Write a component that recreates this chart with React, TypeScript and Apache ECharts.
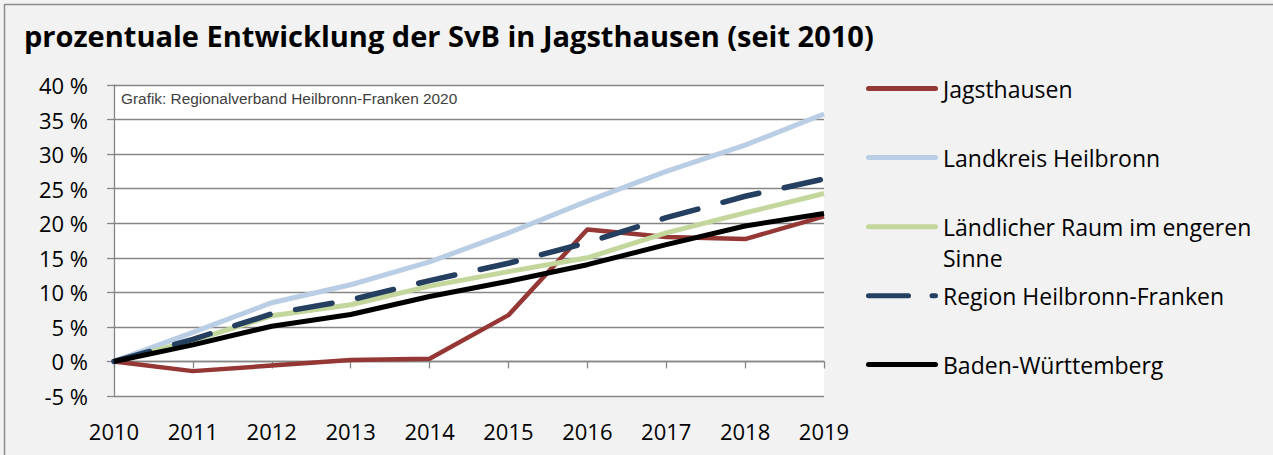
import React, { useEffect, useRef } from "react";
import * as echarts from "echarts";

const years = ["2010", "2011", "2012", "2013", "2014", "2015", "2016", "2017", "2018", "2019"];
const jagsthausen = [0, -1.4, -0.6, 0.2, 0.4, 6.7, 19.1, 18.0, 17.7, 21.0];
const landkreis = [0, 4.2, 8.5, 11.1, 14.4, 18.6, 23.2, 27.5, 31.3, 35.8];
const laendlich = [0, 3.0, 6.6, 8.2, 10.9, 13.0, 15.0, 18.6, 21.5, 24.3];
const region = [0, 3.2, 6.9, 8.9, 11.7, 14.2, 17.2, 20.8, 23.9, 26.4];
const bw = [0, 2.4, 5.1, 6.8, 9.4, 11.6, 14.0, 16.9, 19.6, 21.4];

const names = [
  "Jagsthausen",
  "Landkreis Heilbronn",
  "Ländlicher Raum im engeren Sinne",
  "Region Heilbronn-Franken",
  "Baden-Württemberg",
];
const colors = ["#953735", "#b9cde5", "#c3d69b", "#243f60", "#000000"];

const FONT = "'Open Sans', sans-serif";
const SOLID_ICON = "path://M2.5,0H69.5A2.5,2.5,0,0,1,69.5,5H2.5A2.5,2.5,0,0,1,2.5,0Z";
const DASH_ICON =
  "path://M2.5,0H42.5A2.5,2.5,0,0,1,42.5,5H2.5A2.5,2.5,0,0,1,2.5,0Z M66,0H69.5A2.5,2.5,0,0,1,69.5,5H66A2.5,2.5,0,0,1,66,0Z";

export default function App() {
  const ref = useRef<HTMLDivElement>(null);
  useEffect(() => {
    document.body.style.margin = "0";
    const chart = echarts.init(ref.current!, null, { renderer: "svg" });
    const grey = "#868686";
    const legendCenters = [88.5, 157.5, 226.7, 295.7, 364.5];
    const legends = names.map((n, i) => {
      const multi = i === 2;
      const lh = multi ? 31 : 28;
      return {
        data: [n],
        left: 866,
        top: multi ? legendCenters[i] - lh * 1.5 : legendCenters[i] - lh / 2,
        padding: 0,
        itemWidth: 72,
        itemHeight: 5,
        icon: i === 3 ? DASH_ICON : SOLID_ICON,
        itemStyle: { borderWidth: 0 },
        selectedMode: false,
        formatter: multi ? () => "\nLändlicher Raum im engeren\nSinne" : undefined,
        textStyle: { fontFamily: FONT, fontSize: 23, color: "#000", lineHeight: lh },
      };
    });
    const seriesData = [jagsthausen, landkreis, laendlich, region, bw];
    const widths = [4.5, 5, 5, 5.5, 5];
    chart.setOption({
      animation: false,
      backgroundColor: "#f2f2f2",
      title: {
        text: "prozentuale Entwicklung der SvB in Jagsthausen (seit 2010)",
        left: 24,
        top: 21,
        padding: 0,
        textStyle: { fontFamily: FONT, fontWeight: "bold", fontSize: 29, color: "#000" },
      },
      legend: legends,
      grid: {
        left: 114,
        right: 449,
        top: 85,
        bottom: 59,
        show: true,
        backgroundColor: "#ffffff",
        borderWidth: 0,
      },
      xAxis: [
        {
          type: "category",
          data: years,
          boundaryGap: false,
          position: "top",
          axisLine: { onZero: true, lineStyle: { color: grey, width: 1.3 } },
          axisTick: { show: true, inside: true, length: 7, lineStyle: { color: grey, width: 1.3 } },
          axisLabel: { show: false },
          splitLine: { show: false },
        },
        {
          type: "category",
          data: years,
          boundaryGap: false,
          position: "bottom",
          axisLine: { show: false, onZero: false },
          axisTick: { show: false },
          axisLabel: { show: true, margin: 24, fontFamily: FONT, fontSize: 22, color: "#000" },
          splitLine: { show: false },
        },
      ],
      yAxis: {
        type: "value",
        min: -5,
        max: 40,
        interval: 5,
        axisLine: { show: true, lineStyle: { color: grey, width: 1.3 } },
        axisTick: { show: true, length: 7, lineStyle: { color: grey, width: 1.3 } },
        axisLabel: {
          margin: 26,
          fontFamily: FONT,
          fontSize: 22,
          color: "#000",
          formatter: (v: number) => `${v} %`,
        },
        splitLine: { show: true, lineStyle: { color: grey, width: 1.3 } },
      },
      graphic: [
        {
          type: "text",
          left: 121,
          top: 91,
          style: {
            text: "Grafik: Regionalverband Heilbronn-Franken 2020",
            font: "15.4px 'Liberation Sans', Arial, sans-serif",
            fill: "#404040",
          },
        },
        {
          type: "line",
          shape: { x1: 4, y1: 4.5, x2: 1273, y2: 4.5 },
          style: { stroke: "#8c8c8c", lineWidth: 1.5 },
        },
        {
          type: "line",
          shape: { x1: 4.5, y1: 4, x2: 4.5, y2: 455 },
          style: { stroke: "#8c8c8c", lineWidth: 1.5 },
        },
      ],
      series: names.map((n, i) => ({
        name: n,
        type: "line",
        xAxisIndex: 0,
        data: seriesData[i],
        symbol: "none",
        color: colors[i],
        lineStyle: {
          color: colors[i],
          width: widths[i],
          type: i === 3 ? [37, 26] : "solid",
          cap: i === 3 ? "round" : "butt",
          join: "round",
        },
      })),
    });
    return () => chart.dispose();
  }, []);
  return <div ref={ref} style={{ width: 1273, height: 455 }} />;
}
